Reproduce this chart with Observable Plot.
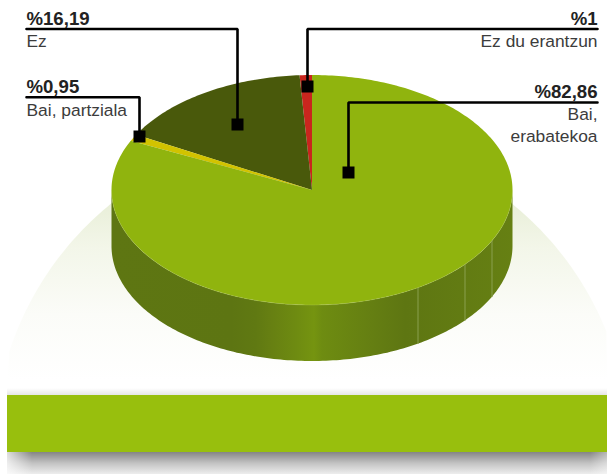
<!DOCTYPE html>
<html><head><meta charset="utf-8">
<style>html,body{margin:0;padding:0;background:#fff}svg{display:block}</style>
<script src="https://cdn.jsdelivr.net/npm/d3@7"></script>
<script src="https://cdn.jsdelivr.net/npm/@observablehq/plot@0.6"></script>
</head><body><div id="chart"></div>
<script>
const categories = ["Ez du erantzun", "Ez", "Bai, partziala", "Bai, erabatekoa"];
const shares = [1, 16.19, 0.95, 82.86];
const valueLabels = ["%1", "%16,19", "%0,95", "%82,86"];

const sliceColors = ["#c9261e", "#49590b", "#d2c300", "#90b40e"];
const cx = 311.5, cy = 189.5, rx = 200.5, ry = 115, depth = 56;

// Pie geometry: each slice is swept counter-clockwise from 12 o'clock by its share
const total = d3.sum(shares);
let acc = 0;
const slices = shares.map((v, i) => {
  const a0 = acc / total * 2 * Math.PI;
  acc += v;
  const a1 = acc / total * 2 * Math.PI;
  return {category: categories[i], a0, a1, i};
});
const pt = (a, r = 1) => [cx - r * rx * Math.sin(a), cy - r * ry * Math.cos(a)];
const slicePoly = slices.flatMap(s => {
  const n = Math.max(4, Math.ceil((s.a1 - s.a0) * 60));
  const pts = [[cx, cy]];
  for (let k = 0; k <= n; k++) pts.push(pt(s.a0 + (s.a1 - s.a0) * k / n));
  pts.push([cx, cy]);
  return pts.map(([x, y]) => ({x, y, category: s.category}));
});
// visible wall: lower half of the ellipse extruded by depth
const wall = [];
for (let k = 0; k <= 180; k++) { const [x, y] = pt(Math.PI / 2 + Math.PI * k / 180); wall.push({x, y}); }
for (let k = 180; k >= 0; k--) { const [x, y] = pt(Math.PI / 2 + Math.PI * k / 180); wall.push({x, y: y + depth}); }
const rim = d3.range(0, 181).map(k => { const [x, y] = pt(Math.PI / 2 + Math.PI * k / 180); return {x, y}; });

// wall seams
const seamXs = [417.5, 464.5, 491.5];
const seams = seamXs.flatMap(x => {
  const y = cy + ry * Math.sqrt(1 - ((x - cx) / rx) ** 2);
  return [{x, y, s: x}, {x, y: y + depth, s: x}];
});

// hill behind the pie
const hill = [{x: 7, y: 395}].concat(
  d3.range(0, 181).map(k => {
    const t = Math.PI * k / 180;
    return {x: 311 - 318 * Math.cos(t), y: 450 - 318 * Math.sin(t)};
  }).filter(d => d.y < 395 && d.x >= 7 && d.x <= 607),
  [{x: 607, y: 395}]
);

// Leader lines
const leaders = [
  {i: 0, path: [[597, 28.5], [307, 28.5], [307, 86]], side: "end", x: 597, b: 24, lines: [["Ez du erantzun", 46.7]]},
  {i: 1, path: [[26, 28.5], [237, 28.5], [237, 124]], side: "start", x: 26, b: 24, lines: [["Ez", 46.7]]},
  {i: 2, path: [[26, 96.7], [139, 96.7], [139, 136]], side: "start", x: 26, b: 92.5, lines: [["Bai, partziala", 115]]},
  {i: 3, path: [[597, 102], [348, 102], [348, 172]], side: "end", x: 597, b: 97, lines: [["Bai,", 119.5], ["erabatekoa", 141.7]]}
];
const leaderPts = leaders.flatMap(l => l.path.map(([x, y]) => ({x, y, k: l.i})));
const markers = leaders.map(l => { const p = l.path[2]; return {x: p[0], y: p[1]}; });
const boldText = leaders.map(l => ({x: l.x, y: l.b, t: valueLabels[l.i], a: l.side}));
const lightText = leaders.flatMap(l => l.lines.map(([t, y]) => ({x: l.x, y, t, a: l.side})));

const defs = () => {
  const d = d3.create("svg:defs");
  const lg = (id, attrs, stops) => {
    const g = d.append("linearGradient").attr("id", id).attr("gradientUnits", "userSpaceOnUse");
    Object.entries(attrs).forEach(([k, v]) => g.attr(k, v));
    stops.forEach(([o, c, op]) => g.append("stop").attr("offset", o).attr("stop-color", c).attr("stop-opacity", op ?? 1));
  };
  lg("wallG", {x1: 111, x2: 512, y1: 0, y2: 0}, [
    [0, "#5e7612"], [0.3, "#5d7512"], [0.36, "#607912"], [0.4, "#678012"], [0.46, "#6e8b11"], [0.505, "#759410"], [0.525, "#6e8c11"], [0.645, "#657f12"], [0.733, "#5e7612"], [1, "#668013"]
  ]);
  lg("hillG", {x1: 0, x2: 0, y1: 190, y2: 380}, [[0, "#e6edd4"], [0.3, "#f3f6e9"], [0.65, "#fbfcf8"], [1, "#ffffff"]]);
  lg("shadowG", {x1: 0, x2: 0, y1: 452, y2: 474}, [[0, "#000", 0.48], [0.5, "#000", 0.24], [1, "#000", 0.07]]);
  lg("shadowTop", {x1: 0, x2: 0, y1: 388, y2: 395}, [[0, "#000", 0], [1, "#000", 0.1]]);
  lg("fadeL", {x1: 7, x2: 32, y1: 0, y2: 0}, [[0, "#fff", 0.72], [1, "#fff", 0]]);
  lg("fadeR", {x1: 590, x2: 607, y1: 0, y2: 0}, [[0, "#fff", 0], [1, "#fff", 0.4]]);
  return d.node();
};

const box = (x1, x2, y1, y2, fill) => Plot.rect([{x1, x2, y1, y2}], {x1: "x1", x2: "x2", y1: "y1", y2: "y2", fill});

const chart = Plot.plot({
  width: 607, height: 474, margin: 0,
  style: {background: "transparent", fontFamily: "'Liberation Sans', Arial, sans-serif"},
  x: {domain: [0, 607], range: [0, 607], axis: null},
  y: {domain: [0, 474], range: [0, 474], axis: null},
  color: {domain: categories, range: sliceColors},
  marks: [
    defs,
    Plot.line(hill, {x: "x", y: "y", fill: "url(#hillG)", stroke: "none"}),
    box(7, 607, 388, 395, "url(#shadowTop)"),
    box(7, 607, 452, 474, "url(#shadowG)"),
    box(7, 32, 452, 474, "url(#fadeL)"),
    box(590, 607, 452, 474, "url(#fadeR)"),
    box(7, 607, 395, 452, "#98bf0d"),
    Plot.line(wall, {x: "x", y: "y", fill: "url(#wallG)", stroke: "none"}),
    Plot.line(seams, {x: "x", y: "y", z: "s", stroke: "#8aa04e", strokeWidth: 1}),
    Plot.line(slicePoly, {x: "x", y: "y", z: "category", fill: "category", stroke: "none", curve: "linear"}),
    Plot.line(rim, {x: "x", y: "y", stroke: "#b5cc66", strokeWidth: 0.5, strokeOpacity: 0.6}),
    Plot.line(leaderPts, {x: "x", y: "y", z: "k", stroke: "#000", strokeWidth: 2.6, strokeLinejoin: "miter"}),
    Plot.dot(markers, {x: "x", y: "y", symbol: "square", r: 6.77, fill: "#000", stroke: "none"}),
    ...["start", "end"].flatMap(side => [
      Plot.text(boldText.filter(d => d.a === side), {x: "x", y: "y", text: "t", textAnchor: side, lineAnchor: "bottom", fontSize: 18.6, fontWeight: 700, fill: "#222"}),
      Plot.text(lightText.filter(d => d.a === side), {x: "x", y: "y", text: "t", textAnchor: side, lineAnchor: "bottom", fontSize: 17.4, fill: "#3c3c3c"})
    ])
  ]
});
document.getElementById("chart").append(chart);
</script></body></html>
